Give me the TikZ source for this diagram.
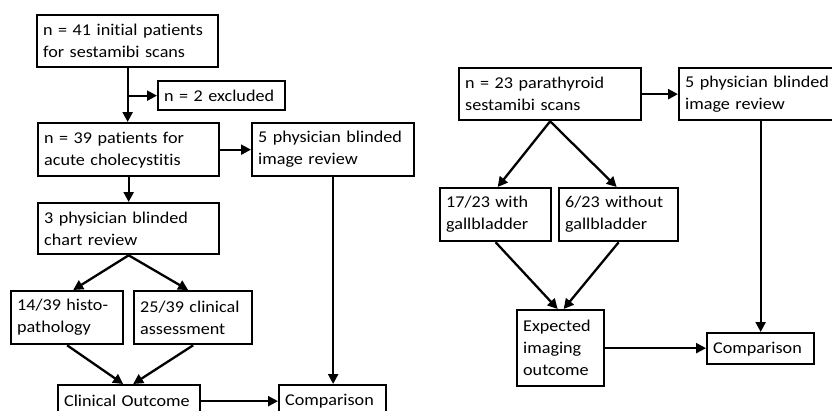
\documentclass[tikz,border=0pt]{standalone}
\usepackage{fontspec}
\setmainfont{Carlito}[Ligatures=NoCommon, FakeStretch=1.1]
\usetikzlibrary{arrows.meta}
\newcommand\tline[1]{\mbox{#1}}
\begin{document}
\begin{tikzpicture}[x=1pt,y=-1pt,
  box/.style={draw, line width=2.3pt, anchor=north west, align=left, inner xsep=6pt, inner ysep=0pt,
    font=\fontsize{16.5}{22}\selectfont},
  arr/.style={line width=2.3pt, -{Triangle[length=10pt,width=10pt]}}]
\useasboundingbox (0,0) rectangle (832,410);
\clip (0,0) rectangle (832,410);
% left flow
\node[box, text width=169pt, minimum height=52pt] (A) at (36,14) {\tline{n = 41 initial patients}\\\tline{for sestamibi scans}};
\node[box, text width=115pt, minimum height=29pt] (B) at (157,80) {\tline{n = 2 excluded}};
\node[box, text width=169pt, minimum height=53pt] (C) at (37,122) {\tline{n = 39 patients for}\\\tline{acute cholecystitis}};
\node[box, text width=150pt, minimum height=53pt] (D) at (251,122) {\tline{5 physician blinded}\\\tline{image review}};
\node[box, text width=169pt, minimum height=51pt] (E) at (37,202) {\tline{3 physician blinded}\\\tline{chart review}};
\node[box, text width=100pt, minimum height=53pt] (F) at (10,290) {\tline{14/39 histo-}\\\tline{pathology}};
\node[box, text width=106pt, minimum height=53pt] (G) at (133,290) {\tline{25/39 clinical}\\\tline{assessment}};
\node[box, text width=130pt, minimum height=32pt] (H) at (57,384) {\tline{Clinical Outcome}};
\node[box, text width=95pt, minimum height=32pt] (I) at (278,384) {\tline{Comparison}};
% right flow
\node[box, text width=170pt, minimum height=52pt] (J) at (458,67) {\tline{n = 23 parathyroid}\\\tline{sestamibi scans}};
\node[box, text width=142pt, minimum height=52pt] (K) at (678,67) {\tline{5 physician blinded}\\\tline{image review}};
\node[box, text width=99pt, minimum height=53pt] (L) at (439,187) {\tline{17/23 with}\\\tline{gallbladder}};
\node[box, text width=107pt, minimum height=53pt] (M) at (558,187) {\tline{6/23 without}\\\tline{gallbladder}};
\node[box, text width=75pt, minimum height=76pt] (N) at (516,309) {\tline{Expected}\\\tline{imaging}\\\tline{outcome}};
\node[box, text width=95pt, minimum height=31pt] (O) at (706,332) {\tline{Comparison}};
% connectors left
\draw[arr] (A.south) -- (A.south |- C.north);
\draw[arr] (A.south |- B.west) -- (B.west);
\draw[arr] (C.east) -- (D.west);
\draw[arr] (C.south) -- (E.north);
\draw[arr] (E.south) -- ([xshift=6pt]F.north);
\draw[arr] (E.south) -- ([xshift=-5pt]G.north);
\draw[arr] (F.south) -- ([xshift=-6pt]H.north);
\draw[arr] (G.south) -- ([xshift=4pt]H.north);
\draw[arr] (H.east) -- (H.east -| I.west);
\draw[arr] (D.south) -- (D.south |- I.north);
% connectors right
\draw[arr] (J.east) -- (J.east -| K.west);
\draw[arr] (J.south) -- ([xshift=2pt]L.north);
\draw[arr] (J.south) -- ([xshift=-2pt]M.north);
\draw[arr] (L.south) -- ([xshift=-3pt]N.north);
\draw[arr] (M.south) -- ([xshift=3pt]N.north);
\draw[arr] (N.east) -- (N.east -| O.west);
\draw[arr] (O.north |- K.south) -- (O.north);
\end{tikzpicture}
\end{document}
